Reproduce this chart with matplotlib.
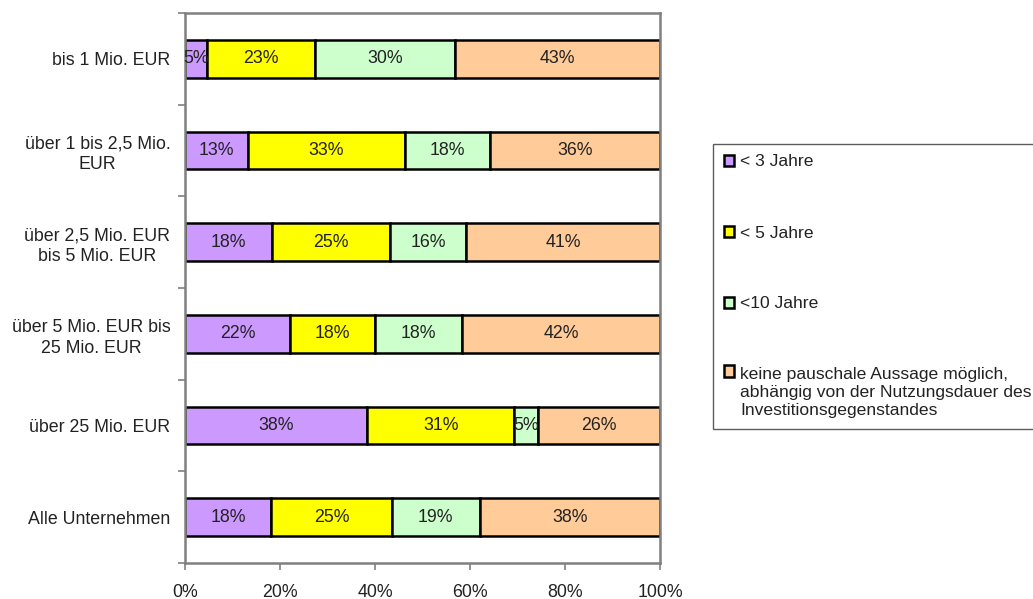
import numpy as np
import matplotlib
matplotlib.use("Agg")
import matplotlib.pyplot as plt
from matplotlib.patches import Patch, Rectangle
from matplotlib.legend_handler import HandlerPatch

plt.rcParams['font.family'] = ['Liberation Sans', 'DejaVu Sans']

# categories, top to bottom
categories = ["bis 1 Mio. EUR",
              "über 1 bis 2,5 Mio.\nEUR",
              "über 2,5 Mio. EUR\nbis 5 Mio. EUR",
              "über 5 Mio. EUR bis\n25 Mio. EUR",
              "über 25 Mio. EUR",
              "Alle Unternehmen"]

# shares in percent per series
lt3 = [4.6, 13.3, 18.3, 22.1, 38.4, 18.2]
lt5 = [22.7, 33.0, 24.9, 17.9, 30.9, 25.3]
lt10 = [29.6, 17.9, 16.0, 18.4, 5.0, 18.6]
keine = [43.1, 35.8, 40.8, 41.6, 25.7, 37.9]

series_names = ["< 3 Jahre", "< 5 Jahre", "<10 Jahre",
                "keine pauschale Aussage möglich,\nabhängig von der Nutzungsdauer des\nInvestitionsgegenstandes"]
colors = ["#CC99FF", "#FFFF00", "#CCFFCC", "#FFCC99"]

FS = 12.8
FS_LEG = 12.6
TXT = '#222222'


class TopHandler(HandlerPatch):
    # put the square next to the first line of a multi-line label
    def __init__(self, shift=0.0, **kw):
        HandlerPatch.__init__(self, **kw)
        self.shift = shift

    def create_artists(self, legend, orig_handle, xdescent, ydescent,
                       width, height, fontsize, trans):
        p = Rectangle((-xdescent, -ydescent + self.shift), width, height,
                      facecolor=orig_handle.get_facecolor(),
                      edgecolor=orig_handle.get_edgecolor(),
                      linewidth=orig_handle.get_linewidth(), transform=trans)
        return [p]


fig = plt.figure(figsize=(10.33, 5.99), dpi=100)
ax = fig.add_axes([185/1033, 1-563/599, (660-185)/1033, (563-13)/599])

y = np.arange(len(categories))
left = np.zeros(len(categories))
for vals, col in zip([lt3, lt5, lt10, keine], colors):
    vals = np.array(vals)
    ax.barh(y, vals, left=left, height=0.41, color=col, edgecolor='black', linewidth=1.8)
    for yi, l, v in zip(y, left, vals):
        ax.text(l + v/2, yi, '%d%%' % round(v), ha='center', va='center',
                fontsize=FS, color=TXT)
    left += vals

ax.set_xlim(0, 100)
ax.set_ylim(len(categories) - 0.5, -0.5)
ax.set_xticks(np.arange(0, 101, 20))
ax.set_xticklabels(['%d%%' % t for t in range(0, 101, 20)], fontsize=FS, color=TXT)
ax.set_yticks(y)
ax.set_yticklabels(categories, fontsize=FS, color=TXT, multialignment='center',
                   linespacing=1.3)
ax.set_yticks(np.arange(-0.5, len(categories), 1), minor=True)
ax.tick_params(axis='y', which='major', length=0, pad=10.5)
ax.tick_params(axis='y', which='minor', length=5, width=1.2, color='#808080', direction='out')
ax.tick_params(axis='x', length=5, width=1.2, color='#808080', direction='out', pad=10)
for s in ax.spines.values():
    s.set_color('#808080')
    s.set_linewidth(1.8)

handles = [Patch(facecolor=c, edgecolor='black', linewidth=1.8) for c in colors]
hmap = {handles[3]: TopHandler(shift=1.25*FS_LEG)}
leg = fig.legend(handles, series_names, loc='upper left',
                 bbox_to_anchor=(713/1033, 1-144/599), fontsize=FS_LEG,
                 handlelength=0.6, handleheight=0.6, handletextpad=0.35,
                 labelspacing=3.2, borderpad=0.6, fancybox=False,
                 frameon=True, borderaxespad=0, handler_map=hmap)
for t in leg.get_texts():
    t.set_linespacing(1.25)
    t.set_color(TXT)
leg.get_frame().set_edgecolor('#333333')
leg.get_frame().set_linewidth(1.0)

fig.savefig('out.png', dpi=100)
